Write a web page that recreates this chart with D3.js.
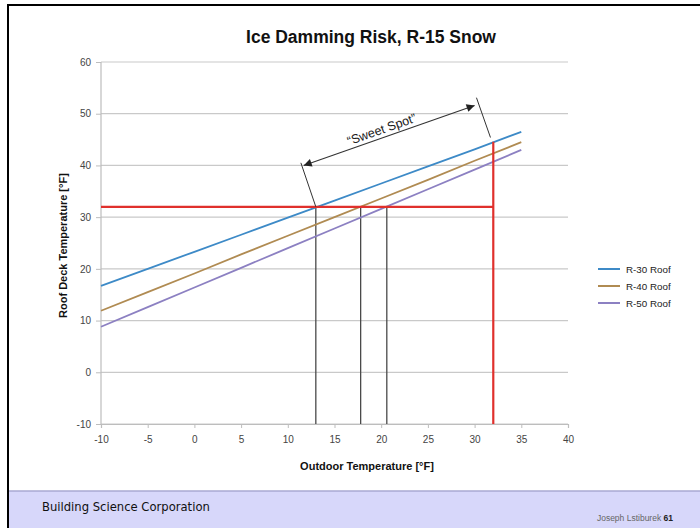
<!DOCTYPE html>
<html><head><meta charset="utf-8">
<script src="https://cdn.jsdelivr.net/npm/d3@7"></script>
<style>body{margin:0;background:#fff;}svg{display:block;font-family:Arial,"Liberation Sans",sans-serif;}</style>
</head><body>
<svg id="c" width="700" height="528"></svg>
<script>
const outdoorTemps = [-10, -5, 0, 5, 10, 15, 20, 25, 30, 35];
const r30Roof = [16.7, 20.0, 23.3, 26.6, 29.9, 33.2, 36.5, 39.8, 43.1, 46.5];
const r40Roof = [11.9, 15.5, 19.1, 22.8, 26.4, 30.0, 33.6, 37.2, 40.9, 44.5];
const r50Roof = [8.8, 12.6, 16.4, 20.2, 24.0, 27.8, 31.6, 35.4, 39.2, 43.0];
const seriesNames = ["R-30 Roof", "R-40 Roof", "R-50 Roof"];
const seriesColors = ["#3d8ac7", "#b08b52", "#8c80c2"];
const xTicks = [-10, -5, 0, 5, 10, 15, 20, 25, 30, 35, 40];
const yTicks = [-10, 0, 10, 20, 30, 40, 50, 60];
const freezeTemp = 32;
const redTopY = 44.6;
const crossings = [13.0, 17.8, 20.6];
// sweet spot annotation (data units)
const sweetLeftExt = [[13.0, 32], [11.4, 40.5]];
const sweetRightExt = [[31.7, 45.4], [30.2, 53.1]];
const sweetArrow = [[11.7, 40.0], [30.0, 51.6]];

const svg = d3.select("#c");
const x = d3.scaleLinear().domain([-10, 40]).range([101, 568]);
const y = d3.scaleLinear().domain([-10, 60]).range([424, 62]);

// frame
svg.append("rect").attr("x", 0).attr("y", 0).attr("width", 700).attr("height", 528).attr("fill", "#fff");
svg.append("path").attr("d", "M8,528 V5 H700").attr("fill", "none").attr("stroke", "#000").attr("stroke-width", 2);

// footer
svg.append("rect").attr("x", 9).attr("y", 491).attr("width", 691).attr("height", 37).attr("fill", "#d7d7fa");
svg.append("line").attr("x1", 9).attr("x2", 700).attr("y1", 491).attr("y2", 491).attr("stroke", "#a9a9d2").attr("stroke-width", 1.5);
svg.append("text").attr("x", 42).attr("y", 511).attr("font-family", "'DejaVu Sans', sans-serif").attr("font-size", 11.6).attr("fill", "#111").text("Building Science Corporation");
const ft = svg.append("text").attr("x", 673).attr("y", 521).attr("text-anchor", "end").attr("font-size", 8.5).attr("fill", "#666");
ft.append("tspan").text("Joseph Lstiburek ");
ft.append("tspan").attr("font-weight", "bold").attr("fill", "#222").text("61");

// title
svg.append("text").attr("x", 371).attr("y", 43).attr("text-anchor", "middle").attr("font-weight", "bold").attr("font-size", 17.5).attr("fill", "#111").text("Ice Damming Risk, R-15 Snow");

// grid
svg.append("g").selectAll("line").data(yTicks).join("line")
  .attr("x1", x(-10)).attr("x2", x(40)).attr("y1", d => y(d)).attr("y2", d => y(d))
  .attr("stroke", "#c9c9c9").attr("stroke-width", 1.2);
svg.append("line").attr("x1", x(-10)).attr("x2", x(-10)).attr("y1", y(60)).attr("y2", y(-10)).attr("stroke", "#bdbdbd").attr("stroke-width", 1.2);

// axes
const fmt = d => String(d);
const yAxis = svg.append("g").attr("transform", `translate(${x(-10)},0)`)
  .call(d3.axisLeft(y).tickValues(yTicks).tickFormat(fmt).tickSize(5).tickPadding(5));
yAxis.select(".domain").remove();
yAxis.selectAll("line").attr("stroke", "#bdbdbd");
yAxis.selectAll("text").attr("font-size", 10).attr("fill", "#444").attr("font-family", "Arial, sans-serif");
const xAxis = svg.append("g").attr("transform", `translate(0,${y(-10)})`)
  .call(d3.axisBottom(x).tickValues(xTicks).tickFormat(fmt).tickSize(4).tickPadding(8));
xAxis.select(".domain").attr("stroke", "#bdbdbd").attr("stroke-width", 1.2);
xAxis.selectAll("line").attr("stroke", "#bdbdbd");
xAxis.selectAll("text").attr("font-size", 10).attr("fill", "#444").attr("font-family", "Arial, sans-serif");

// axis titles
svg.append("text").attr("transform", `translate(67,${y(24.5)}) rotate(-90)`).attr("text-anchor", "middle")
  .attr("font-weight", "bold").attr("font-size", 11).attr("fill", "#111").text("Roof Deck Temperature [°F]");
svg.append("text").attr("x", 367).attr("y", 470).attr("text-anchor", "middle")
  .attr("font-weight", "bold").attr("font-size", 11).attr("fill", "#111").text("Outdoor Temperature [°F]");

// black verticals
svg.append("g").selectAll("line").data(crossings).join("line")
  .attr("x1", d => x(d)).attr("x2", d => x(d)).attr("y1", y(freezeTemp)).attr("y2", y(-10))
  .attr("stroke", "#4a4a4a").attr("stroke-width", 1.3);

// series
const seriesData = [r30Roof, r40Roof, r50Roof];
const line = d3.line().x((d, i) => x(outdoorTemps[i])).y(d => y(d));
svg.append("g").selectAll("path").data(seriesData).join("path")
  .attr("d", d => line(d)).attr("fill", "none")
  .attr("stroke", (d, i) => seriesColors[i]).attr("stroke-width", 1.8);

// red lines
svg.append("line").attr("x1", x(-10)).attr("x2", x(freezeTemp)).attr("y1", y(freezeTemp)).attr("y2", y(freezeTemp))
  .attr("stroke", "#e0302c").attr("stroke-width", 2.2);
svg.append("line").attr("x1", x(freezeTemp)).attr("x2", x(freezeTemp)).attr("y1", y(redTopY)).attr("y2", y(-10))
  .attr("stroke", "#e0302c").attr("stroke-width", 2.2);

// sweet spot annotation
const defs = svg.append("defs");
defs.append("marker").attr("id", "ah").attr("viewBox", "0 0 10 10").attr("refX", 10).attr("refY", 5)
  .attr("markerWidth", 12).attr("markerHeight", 8).attr("markerUnits", "userSpaceOnUse").attr("orient", "auto-start-reverse")
  .append("path").attr("d", "M0,0 L10,5 L0,10 z").attr("fill", "#222");
[sweetLeftExt, sweetRightExt].forEach(seg => {
  svg.append("line").attr("x1", x(seg[0][0])).attr("y1", y(seg[0][1])).attr("x2", x(seg[1][0])).attr("y2", y(seg[1][1]))
    .attr("stroke", "#333").attr("stroke-width", 1);
});
svg.append("line").attr("x1", x(sweetArrow[0][0])).attr("y1", y(sweetArrow[0][1])).attr("x2", x(sweetArrow[1][0])).attr("y2", y(sweetArrow[1][1]))
  .attr("stroke", "#333").attr("stroke-width", 1.1).attr("marker-start", "url(#ah)").attr("marker-end", "url(#ah)");
const ax1 = x(sweetArrow[0][0]), ay1 = y(sweetArrow[0][1]), ax2 = x(sweetArrow[1][0]), ay2 = y(sweetArrow[1][1]);
const ang = Math.atan2(ay2 - ay1, ax2 - ax1) * 180 / Math.PI;
svg.append("text").attr("transform", `translate(${(ax1 + ax2) / 2 - 6},${(ay1 + ay2) / 2 - 2})rotate(${ang})`)
  .attr("text-anchor", "middle").attr("font-size", 12.5).attr("fill", "#222").text("“Sweet Spot”");

// legend
const lg = svg.append("g").selectAll("g").data(seriesNames).join("g")
  .attr("transform", (d, i) => `translate(598,${269 + i * 17})`);
lg.append("line").attr("x1", 0).attr("x2", 22).attr("stroke", (d, i) => seriesColors[i]).attr("stroke-width", 2);
lg.append("text").attr("x", 28).attr("y", 3.5).attr("font-size", 9.8).attr("fill", "#222").text(d => d);
</script>
</body></html>
